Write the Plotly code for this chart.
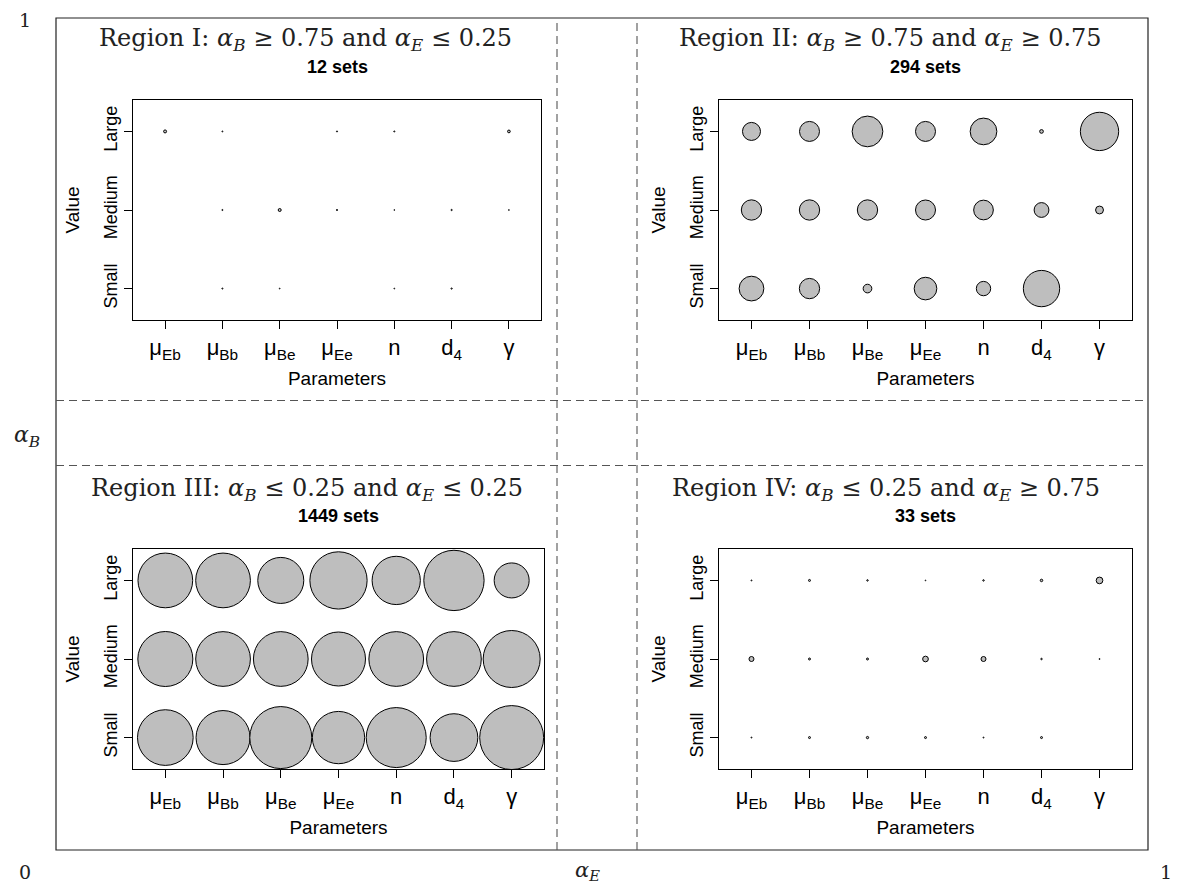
import plotly.graph_objects as go

# ---------------- data ----------------
PARAMETERS = ["μ<sub>Eb</sub>", "μ<sub>Bb</sub>", "μ<sub>Be</sub>", "μ<sub>Ee</sub>",
              "n", "d<sub>4</sub>", "γ"]
LEVELS = ["Small", "Medium", "Large"]

# bubble values (relative counts) per parameter: Small / Medium / Large
R1_SMALL = [0, 0.2, 0.12, 0, 0.12, 0.25, 0]
R1_MEDIUM = [0, 0.2, 1.44, 0.25, 0.12, 0.25, 0.12]
R1_LARGE = [1.44, 0.16, 0, 0.2, 0.2, 0, 1.2]

R2_SMALL = [98, 66, 12, 82, 33, 211, 0]
R2_MEDIUM = [66, 66, 66, 64, 62, 35, 10]
R2_LARGE = [52, 64, 151, 64, 114, 2.2, 235]

R3_SMALL = [496, 467, 615, 438, 576, 364, 655]
R3_MEDIUM = [484, 479, 479, 467, 479, 479, 520]
R3_LARGE = [479, 479, 339, 525, 373, 582, 196]

R4_SMALL = [0.16, 0.64, 0.85, 0.64, 0.16, 0.64, 0]
R4_MEDIUM = [4.0, 0.64, 0.64, 5.2, 4.0, 0.36, 0.16]
R4_LARGE = [0.16, 0.64, 0.36, 0.1, 0.36, 1.0, 7.2]

REGION_TITLES = [
    "Region I: <i>α</i><sub><i>B</i></sub> ≥ 0.75 and <i>α</i><sub><i>E</i></sub> ≤ 0.25",
    "Region II: <i>α</i><sub><i>B</i></sub> ≥ 0.75 and <i>α</i><sub><i>E</i></sub> ≥ 0.75",
    "Region III: <i>α</i><sub><i>B</i></sub> ≤ 0.25 and <i>α</i><sub><i>E</i></sub> ≤ 0.25",
    "Region IV: <i>α</i><sub><i>B</i></sub> ≤ 0.25 and <i>α</i><sub><i>E</i></sub> ≥ 0.75",
]
REGION_SETS = ["12 sets", "294 sets", "1449 sets", "33 sets"]

REGIONS = [
    (R1_SMALL, R1_MEDIUM, R1_LARGE),
    (R2_SMALL, R2_MEDIUM, R2_LARGE),
    (R3_SMALL, R3_MEDIUM, R3_LARGE),
    (R4_SMALL, R4_MEDIUM, R4_LARGE),
]

# ---------------- layout helpers ----------------
W, H = 1180, 889


def px(x):
    return x / W


def py(y):
    return 1 - y / H


# plot boxes in pixels (left, right, top, bottom)
BOXES = [
    (133, 541, 100, 320),
    (719, 1132, 100, 320),
    (133, 544, 549, 769),
    (719, 1132, 549, 769),
]
TITLE_POS = [(305, 40), (890, 40), (307, 489), (886, 489)]
SCALE = 2.5  # px of diameter per sqrt(value)

fig = go.Figure()

SANS = "Liberation Sans, Arial, sans-serif"
SERIF = "DejaVu Serif, serif"

for i, (levels_vals, box) in enumerate(zip(REGIONS, BOXES)):
    xa = "x" if i == 0 else f"x{i + 1}"
    ya = "y" if i == 0 else f"y{i + 1}"
    xs, ys, sizes = [], [], []
    for li, vals in enumerate(levels_vals):
        for pi, v in enumerate(vals):
            if v > 0:
                xs.append(pi + 1)
                ys.append(li + 1)
                sizes.append(SCALE * v ** 0.5)
    fig.add_trace(go.Scatter(
        x=xs, y=ys, mode="markers", xaxis=xa, yaxis=ya,
        marker=dict(size=sizes, sizemode="diameter", color="#BEBEBE",
                    opacity=1, line=dict(color="black", width=1)),
        hoverinfo="skip", showlegend=False, cliponaxis=True,
    ))
    l, r, t, b = box
    axis_common = dict(showgrid=False, zeroline=False, showline=True, mirror=True,
                       linecolor="black", linewidth=1, ticks="outside",
                       ticklen=8, tickcolor="black", tickwidth=1)
    xkey = "xaxis" if i == 0 else f"xaxis{i + 1}"
    ykey = "yaxis" if i == 0 else f"yaxis{i + 1}"
    fig.update_layout({
        xkey: dict(domain=[px(l), px(r)], anchor=ya, range=[0.44, 7.56],
                   tickmode="array", tickvals=list(range(1, 8)), ticktext=PARAMETERS,
                   tickfont=dict(family=SANS, size=22, color="black"),
                   title=dict(text="Parameters", standoff=9,
                              font=dict(family=SANS, size=19, color="black")),
                   **axis_common),
        ykey: dict(domain=[py(b), py(t)], anchor=xa, range=[0.6, 3.4],
                   tickmode="array", tickvals=[1, 2, 3], ticktext=LEVELS,
                   tickangle=-90, ticklabelstandoff=0,
                   tickfont=dict(family=SANS, size=18, color="black"),
                   title=dict(text="Value", standoff=16,
                              font=dict(family=SANS, size=19, color="black")),
                   **axis_common),
    })
    tx, ty = TITLE_POS[i]
    fig.add_annotation(x=px(tx), y=py(ty), xref="paper", yref="paper",
                       text=REGION_TITLES[i], showarrow=False,
                       xanchor="center", yanchor="middle",
                       font=dict(family=SERIF, size=24, color="#222"))
    fig.add_annotation(x=px((l + r) / 2), y=py(ty + 27), xref="paper", yref="paper",
                       text=f"<b>{REGION_SETS[i]}</b>", showarrow=False,
                       xanchor="center", yanchor="middle",
                       font=dict(family=SANS, size=18, color="black"))

# outer frame and dashed separators
shapes = [
    dict(type="rect", xref="paper", yref="paper", x0=px(56), x1=px(1148),
         y0=py(850), y1=py(18), line=dict(color="#222", width=1.2)),
]
for xv in (557, 637):
    shapes.append(dict(type="line", xref="paper", yref="paper", x0=px(xv), x1=px(xv),
                       y0=py(850), y1=py(18),
                       line=dict(color="#555", width=1.1, dash="8px,5px")))
for yv in (400.5, 465.5):
    shapes.append(dict(type="line", xref="paper", yref="paper", x0=px(56), x1=px(1145),
                       y0=py(yv), y1=py(yv),
                       line=dict(color="#555", width=1.1, dash="8px,5px")))
fig.update_layout(shapes=shapes)

# corner / margin labels
corner = [
    ("1", 25, 20, 19),
    ("0", 25, 872, 19),
    ("1", 1166, 872, 19),
    ("<i>α</i><sub><i>B</i></sub>", 27, 437, 22),
    ("<i>α</i><sub><i>E</i></sub>", 587, 871, 21),
]
for txt, x, y, s in corner:
    fig.add_annotation(x=px(x), y=py(y), xref="paper", yref="paper", text=txt,
                       showarrow=False, xanchor="center", yanchor="middle",
                       font=dict(family=SERIF, size=s, color="#222"))

fig.update_layout(width=W, height=H, margin=dict(l=0, r=0, t=0, b=0),
                  paper_bgcolor="white", plot_bgcolor="white", showlegend=False)

fig.write_html("out.html")
